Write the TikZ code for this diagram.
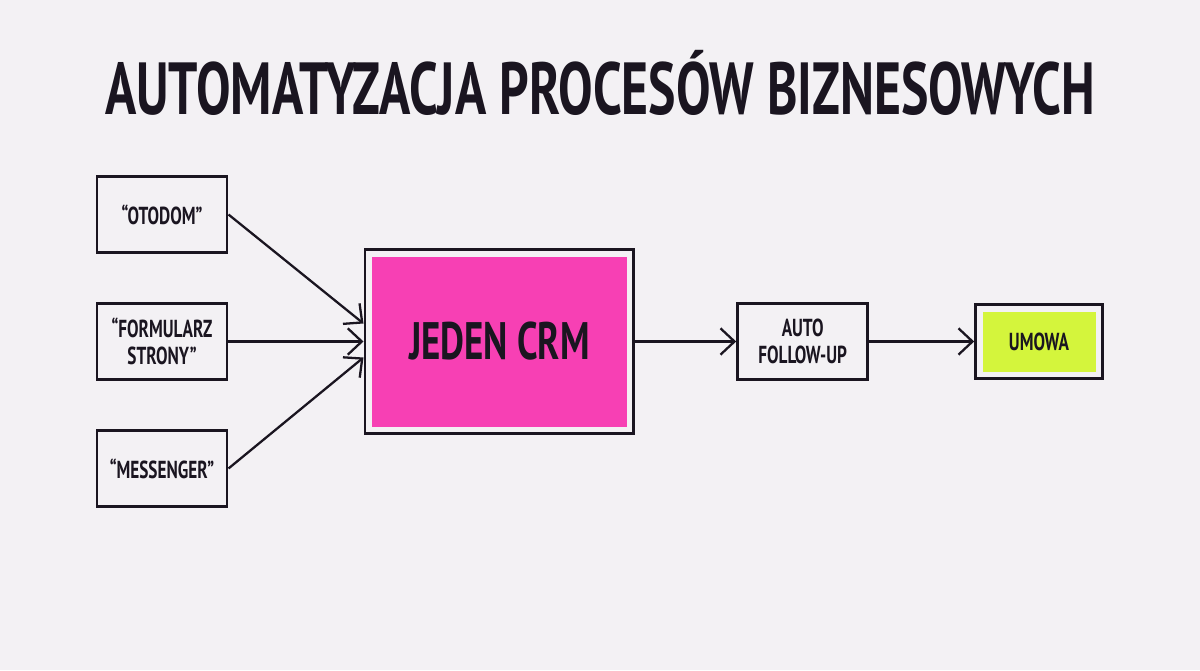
\documentclass[tikz,border=0pt]{standalone}
\usepackage{fontspec}
\setmainfont[FakeStretch=0.7]{PT Sans}
\usetikzlibrary{arrows.meta,positioning,fit}

\definecolor{bg}{RGB}{243,241,244}
\definecolor{crmpink}{RGB}{247,64,180}
\definecolor{limegreen}{RGB}{212,245,60}
\definecolor{ink}{RGB}{26,21,32}

\begin{document}
\begin{tikzpicture}[>={Straight Barb[length=8pt,width=15pt]}, text=ink,
  box/.style={draw=ink, line width=1.7pt, minimum width=2.6cm, minimum height=1.52cm,
    align=center, font=\bfseries\fontsize{14}{15}\selectfont},
  frame/.style={draw=ink, line width=1.7pt, inner sep=0.13cm},
  link/.style={->, draw=ink, line width=1.3pt}]
  \fill[bg] (0,0) rectangle (24,-13.4);
  \useasboundingbox (0,0) rectangle (24,-13.4);

  % title
  \node (title) at (12,-1.65) {\bfseries\fontsize{42}{42}\selectfont AUTOMATYZACJA PROCESÓW BIZNESOWYCH};

  % lead sources
  \node[box] (form) at (3.24,-6.83) {“FORMULARZ\\STRONY”};
  \node[box, above=0.96cm of form] (otodom) {“OTODOM”};
  \node[box, below=0.96cm of form] (messenger) {“MESSENGER”};

  % one crm
  \node[fill=crmpink, minimum width=5.1cm, minimum height=3.4cm,
        font=\bfseries\fontsize{30}{32}\selectfont, right=2.86cm of form] (crm) {JEDEN CRM};
  \node[frame, fit=(crm)] (crmframe) {};

  % follow-up and result
  \node[box, right=2.02cm of crmframe] (followup) {AUTO\\FOLLOW-UP};
  \node[fill=limegreen, minimum width=2.26cm, minimum height=1.2cm,
        font=\bfseries\fontsize{14}{15}\selectfont, right=2.26cm of followup] (umowa) {UMOWA};
  \node[frame, fit=(umowa)] (umowaframe) {};

  % arrows
  \draw[link] (otodom.east) -- ([yshift=0.36cm]crmframe.west);
  \draw[link] (form.east) -- (crmframe.west);
  \draw[link] (messenger.east) -- ([yshift=-0.32cm]crmframe.west);
  \draw[link] (crmframe.east) -- (followup.west);
  \draw[link] (followup.east) -- (umowaframe.west);
\end{tikzpicture}
\end{document}
